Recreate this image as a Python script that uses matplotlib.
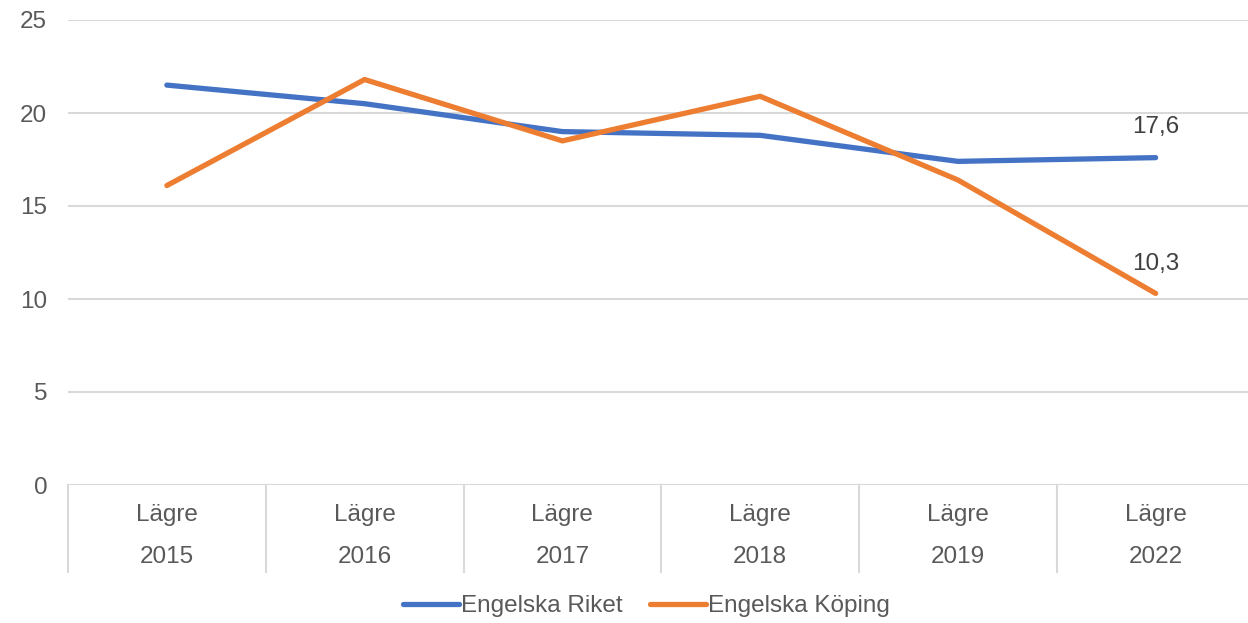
import matplotlib.pyplot as plt
from matplotlib.transforms import blended_transform_factory

plt.rcParams['font.family'] = ['Liberation Sans', 'DejaVu Sans']

levels = ["Lägre"] * 6
years = ["2015", "2016", "2017", "2018", "2019", "2022"]
riket = [21.5, 20.5, 19.0, 18.8, 17.4, 17.6]
koping = [16.1, 21.8, 18.5, 20.9, 16.4, 10.3]

text_col = "#595959"
grid_col = "#D9D9D9"
fs = 17.5

W, H = 1248, 623
fig = plt.figure(figsize=(W / 100, H / 100), dpi=100)
ax = fig.add_axes([68 / W, 1 - 485 / H, (1254.5 - 68) / W, (485 - 20) / H])

x = list(range(len(years)))
ax.plot(x, riket, color="#4472C4", lw=3.8, solid_capstyle="round", label="Engelska Riket")
ax.plot(x, koping, color="#ED7D31", lw=3.8, solid_capstyle="round", label="Engelska Köping")

ax.set_xlim(-0.5, len(years) - 0.5)
ax.set_ylim(0, 25)
ax.set_yticks([0, 5, 10, 15, 20, 25])
ax.tick_params(axis="y", length=0, pad=15, labelsize=fs, labelcolor=text_col)
ax.set_xticks([])
for s in ax.spines.values():
    s.set_visible(False)
ax.yaxis.grid(True, color=grid_col, lw=1.5)
ax.set_axisbelow(True)

# multi-level category axis
tr = blended_transform_factory(ax.transData, ax.transAxes)
sep_bottom = -(572 - 485) / (485 - 20)
for b in range(len(years) + 1):
    ax.plot([b - 0.5, b - 0.5], [0, sep_bottom], transform=tr, color=grid_col, lw=1.5, clip_on=False)
for i in x:
    ax.text(i, -(515 - 485) / 465, levels[i], transform=tr, ha="center", va="center",
            fontsize=fs, color=text_col)
    ax.text(i, -(557 - 485) / 465, years[i], transform=tr, ha="center", va="center",
            fontsize=fs, color=text_col)

# end labels
ax.annotate(f"{riket[-1]:.1f}".replace(".", ","), (x[-1], riket[-1]), xytext=(0, 22),
            textcoords="offset points", ha="center", va="center", fontsize=fs, color="#404040")
ax.annotate(f"{koping[-1]:.1f}".replace(".", ","), (x[-1], koping[-1]), xytext=(0, 21),
            textcoords="offset points", ha="center", va="center", fontsize=fs, color="#404040")

fig.legend(loc="center", bbox_to_anchor=(0.518, 1 - 606 / H), ncol=2, frameon=False,
           fontsize=fs, labelcolor=text_col, handlelength=2.3, handletextpad=0.1,
           columnspacing=1.1)

fig.savefig("out.png", dpi=100)
